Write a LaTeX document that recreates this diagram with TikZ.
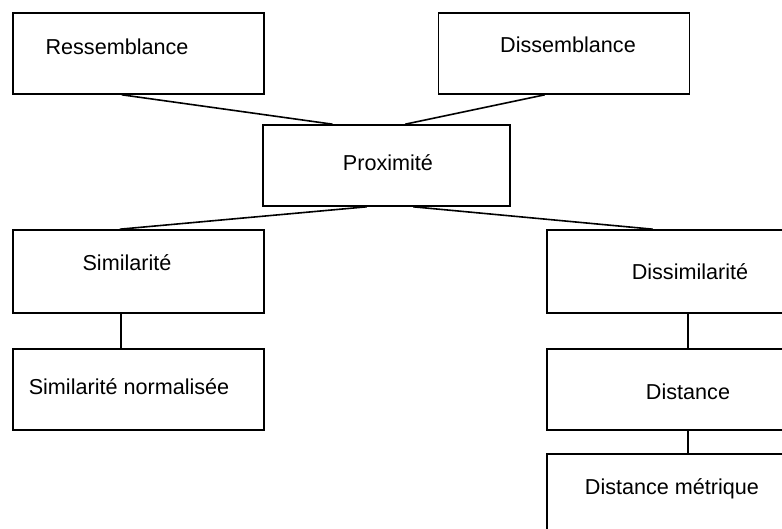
\documentclass[tikz,border=0pt]{standalone}
\usepackage{fontspec}
\setmainfont{Liberation Sans}
\usetikzlibrary{calc}

\tikzset{
  bloc/.style={draw, line width=0.8pt, minimum width=125.5pt, minimum height=40.5pt, inner sep=0pt},
  blocdroit/.style={bloc, minimum width=141pt},
  lien/.style={line width=0.8pt},
}

\begin{document}
\begin{tikzpicture}[x=0.5pt, y=-0.5pt, font=\fontsize{10.8}{13}\selectfont]
    \useasboundingbox (0,0) rectangle (782,529);
    \clip (0,0) rectangle (782,529);

    % Top row
    \node[bloc, label={[xshift=-10.75pt, yshift=3.25pt]center:Ressemblance}] (ress) at (138.5,53.5) {};
    \node[bloc, label={[xshift=2pt, yshift=4.25pt]center:Dissemblance}] (diss) at (564,53.5) {};

    % Middle
    \node[bloc, minimum width=123.5pt, label={[xshift=0.75pt, yshift=1.25pt]center:Proximité}] (prox) at (386.5,165.5) {};

    % Left branch
    \node[bloc, minimum height=41.5pt, label={[xshift=-5.75pt, yshift=4.25pt]center:Similarité}] (simi) at (138.5,271.5) {};
    \node[bloc, label={[xshift=-4.75pt, yshift=1.25pt]center:Similarité normalisée}] (norm) at (138.5,389.5) {};

    % Right branch
    \node[blocdroit, minimum height=41.5pt, label={[xshift=1pt]center:Dissimilarité}] (dissim) at (688,271.5) {};
    \node[blocdroit, label={[yshift=-1.25pt]center:Distance}] (dist) at (688,389.5) {};
    \node[blocdroit, label={[xshift=-8pt, yshift=2.75pt]center:Distance métrique}] (metr) at (688,494.5) {};

    % Links
    \draw[lien] ($(ress.south west)!0.434!(ress.south east)$) -- ($(prox.north west)!0.283!(prox.north east)$);
    \draw[lien] ($(diss.south west)!0.424!(diss.south east)$) -- ($(prox.north west)!0.575!(prox.north east)$);
    \draw[lien] ($(prox.south west)!0.421!(prox.south east)$) -- ($(simi.north west)!0.426!(simi.north east)$);
    \draw[lien] ($(prox.south west)!0.607!(prox.south east)$) -- ($(dissim.north west)!0.376!(dissim.north east)$);
    \draw[lien] ($(simi.south west)!0.43!(simi.south east)$) -- ($(norm.north west)!0.43!(norm.north east)$);
    \draw[lien] (dissim) -- (dist);
    \draw[lien] (dist) -- (metr);
\end{tikzpicture}
\end{document}
